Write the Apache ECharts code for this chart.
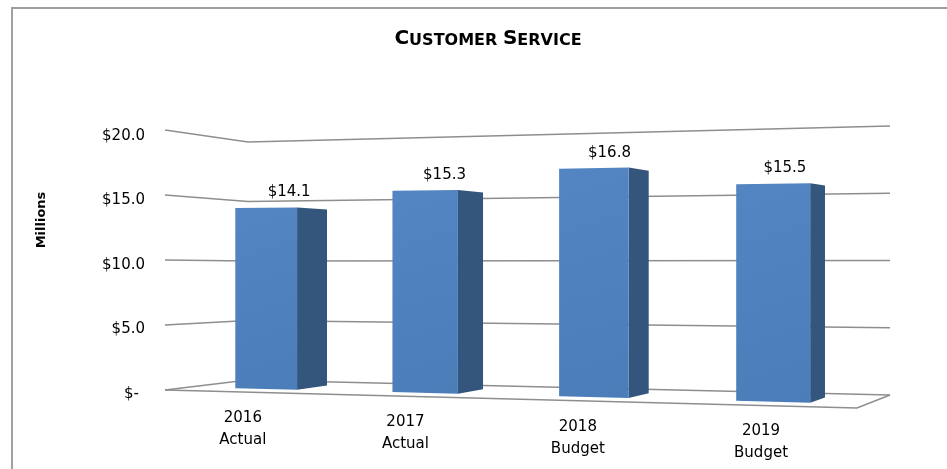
<!DOCTYPE html>
<html>
<head>
<meta charset="utf-8">
<script src="https://cdn.jsdelivr.net/npm/echarts@6/dist/echarts.min.js"></script>
<style>
  html, body { margin: 0; padding: 0; background: #ffffff; }
  #chart { width: 947px; height: 469px; }
</style>
</head>
<body>
<div id="chart"></div>
<script>
// Customer service spending, in millions of dollars
const categories = ['2016\nActual', '2017\nActual', '2018\nBudget', '2019\nBudget'];
const spending = [14.1, 15.3, 16.8, 15.5];
const yTicks = [0, 5, 10, 15, 20];
const yTickLabels = ['{dash|$-}', '$5.0', '$10.0', '$15.0', '$20.0'];

// Perspective box: screen corners of the front (depth 0) and back (depth 1)
// planes, listed bottom-left, bottom-right, top-right, top-left.
const FRONT_PLANE = [[165, 390], [857, 408], [857, 115], [165, 130]];
const BACK_PLANE = [[248, 380], [890, 395], [890, 126], [248, 142]];
const BAR_HALF_WIDTH = 0.05;      // in unit category space
const BAR_FRONT_DEPTH = 0.3;
const BAR_BACK_DEPTH = 0.7;
const LABEL_DEPTH = 0.6;

const FACE_COLOR = '#4F81BD';
const SIDE_COLOR = '#34557C';
const GRID_COLOR = '#8e8e8e';
const FONT = 'DejaVu Sans';

function lerp(a, b, t) { return a + (b - a) * t; }

// Homography taking the unit square (u right, v up) onto a quad.
function squareToQuad(q) {
  const [x0, y0] = q[0], [x1, y1] = q[1], [x2, y2] = q[2], [x3, y3] = q[3];
  const dx1 = x1 - x2, dx2 = x3 - x2, dx3 = x0 - x1 + x2 - x3;
  const dy1 = y1 - y2, dy2 = y3 - y2, dy3 = y0 - y1 + y2 - y3;
  const den = dx1 * dy2 - dx2 * dy1;
  const g = (dx3 * dy2 - dx2 * dy3) / den;
  const h = (dx1 * dy3 - dx3 * dy1) / den;
  return {
    a: x1 - x0 + g * x1, b: x3 - x0 + h * x3, c: x0,
    d: y1 - y0 + g * y1, e: y3 - y0 + h * y3, f: y0,
    g: g, h: h
  };
}

// Map (u along categories, v along values, depth) to screen space.
function project(u, v, depth) {
  const quad = FRONT_PLANE.map((p, k) => [
    lerp(p[0], BACK_PLANE[k][0], depth),
    lerp(p[1], BACK_PLANE[k][1], depth)
  ]);
  const m = squareToQuad(quad);
  const w = m.g * u + m.h * v + 1;
  return [(m.a * u + m.b * v + m.c) / w, (m.d * u + m.e * v + m.f) / w];
}

// Normalised position of a data point inside the flat cartesian grid.
function toUnit(params, api, cat, val) {
  const cs = params.coordSys;
  const p = api.coord([cat, val]);
  return [(p[0] - cs.x) / cs.width, (cs.y + cs.height - p[1]) / cs.height];
}

function renderGridLine(params, api) {
  const v = toUnit(params, api, 0, api.value(1))[1];
  const lineStyle = { stroke: GRID_COLOR, lineWidth: 1.6, fill: 'none' };
  const children = [{
    type: 'polyline',
    shape: { points: [project(0, v, 0), project(0, v, 1), project(1, v, 1)] },
    style: lineStyle
  }];
  if (api.value(1) === yTicks[0]) {
    children.push({
      type: 'polyline',
      shape: { points: [project(0, v, 0), project(1, v, 0), project(1, v, 1)] },
      style: lineStyle
    });
  }
  return { type: 'group', children: children };
}

function renderBar(params, api) {
  const val = api.value(1);
  const [uc, v] = toUnit(params, api, api.value(0), val);
  const u0 = uc - BAR_HALF_WIDTH, u1 = uc + BAR_HALF_WIDTH;
  const df = BAR_FRONT_DEPTH, db = BAR_BACK_DEPTH;
  const front = [project(u0, 0, df), project(u1, 0, df), project(u1, v, df), project(u0, v, df)];
  const side = [project(u1, 0, df), project(u1, 0, db), project(u1, v, db), project(u1, v, df)];
  const top = project(uc, v, LABEL_DEPTH);
  const foot = project(uc, 0, 0);
  return {
    type: 'group',
    children: [
      { type: 'polygon', shape: { points: side }, style: { fill: SIDE_COLOR } },
      {
        type: 'polygon', shape: { points: front },
        style: {
          fill: {
            type: 'linear', x: 0, y: 0, x2: 1, y2: 1,
            colorStops: [{ offset: 0, color: '#5285C2' }, { offset: 1, color: '#4B7DB9' }]
          }
        }
      },
      {
        type: 'text', x: top[0], y: top[1] - 17,
        style: {
          text: '$' + val.toFixed(1), fill: '#000', font: '15px "' + FONT + '"',
          align: 'center', verticalAlign: 'middle'
        }
      },
      {
        type: 'text', x: foot[0], y: foot[1] + 15,
        style: {
          text: categories[params.dataIndex], fill: '#000', font: '15px "' + FONT + '"',
          align: 'center', verticalAlign: 'top', lineHeight: 22
        }
      }
    ]
  };
}

const chart = echarts.init(document.getElementById('chart'), null, { renderer: 'canvas' });
chart.setOption({
  backgroundColor: '#ffffff',
  animation: false,
  grid: { left: 165, right: 90, top: 136, bottom: 75 },
  xAxis: {
    type: 'category', data: categories,
    axisLine: { show: false }, axisTick: { show: false }, axisLabel: { show: false },
    splitLine: { show: false }
  },
  yAxis: {
    type: 'value', min: 0, max: 20, interval: 5,
    axisLine: { show: false }, axisTick: { show: false }, splitLine: { show: false },
    axisLabel: {
      margin: 20, color: '#000', fontFamily: FONT, fontSize: 15,
      formatter: (val) => yTickLabels[yTicks.indexOf(val)],
      rich: { dash: { fontFamily: FONT, fontSize: 15, color: '#000', padding: [0, 6, 0, 0] } }
    }
  },
  graphic: [
    {
      type: 'rect', shape: { x: 12, y: 8, width: 1200, height: 900 },
      style: { fill: 'none', stroke: '#a0a0a0', lineWidth: 2 }, silent: true
    },
    {
      type: 'text', x: 488, y: 39,
      style: {
        text: '{b|C}{s|USTOMER} {b|S}{s|ERVICE}',
        font: 'bold 16px "' + FONT + '"', fill: '#000',
        align: 'center', verticalAlign: 'middle',
        rich: {
          b: { font: 'bold 20px "' + FONT + '"', verticalAlign: 'bottom' },
          s: { font: 'bold 16px "' + FONT + '"', verticalAlign: 'bottom' }
        }
      }
    },
    {
      type: 'text', x: 42, y: 220, rotation: Math.PI / 2,
      style: {
        text: 'Millions', font: 'bold 13px "' + FONT + '"', fill: '#000',
        align: 'center', verticalAlign: 'middle'
      }
    }
  ],
  series: [
    {
      type: 'custom', name: 'grid', clip: false, z: 1, silent: true,
      renderItem: renderGridLine,
      data: yTicks.map((t) => [0, t])
    },
    {
      type: 'custom', name: 'Customer Service', clip: false, z: 2,
      renderItem: renderBar,
      data: spending.map((v, i) => [i, v])
    }
  ]
});
</script>
</body>
</html>
